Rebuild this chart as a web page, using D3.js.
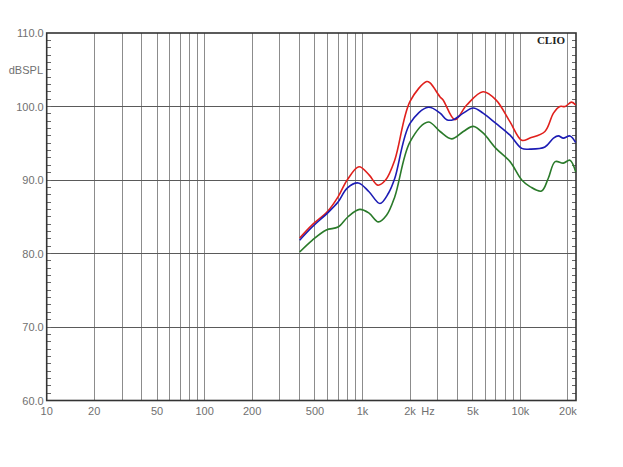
<!DOCTYPE html>
<html><head><meta charset="utf-8">
<script src="https://cdn.jsdelivr.net/npm/d3@7"></script>
<style>body{margin:0;background:#fff}svg{display:block}</style>
</head><body><svg id="c" width="623" height="467"></svg>
<script>
const yTicks = [60, 70, 80, 90, 100, 110];
const xLabelTicks = [10, 20, 50, 100, 200, 500, 1000, 2000, 5000, 10000, 20000];
const xLabelText = ["10", "20", "50", "100", "200", "500", "1k", "2k", "5k", "10k", "20k"];

const redFreq = [400, 480, 600, 700, 800, 950, 1100, 1250, 1400, 1600, 2000, 2550, 2680, 3100, 3240, 3850, 4570, 5800, 7000, 8600, 10200, 11500, 14300, 16200, 17800, 19200, 21100, 22400];
const redDb   = [82.1, 83.9, 85.7, 87.7, 90.0, 91.8, 90.7, 89.3, 90.0, 92.7, 100.7, 103.4, 103.2, 101.3, 100.9, 98.2, 100.2, 102.0, 100.9, 97.9, 95.4, 95.7, 96.6, 99.1, 100.0, 100.0, 100.6, 100.2];

const blueFreq = [400, 480, 600, 700, 800, 940, 1100, 1290, 1460, 1600, 2000, 2610, 3100, 3415, 3760, 4350, 5030, 5800, 7000, 8600, 10200, 11500, 14300, 16200, 17400, 18700, 20600, 22400];
const blueDb   = [81.8, 83.6, 85.5, 87.0, 88.9, 89.6, 88.4, 86.8, 88.2, 90.2, 97.7, 99.9, 99.1, 98.2, 98.2, 99.1, 99.8, 99.1, 97.7, 96.1, 94.3, 94.2, 94.5, 95.7, 96.0, 95.7, 96.0, 95.1];

const greenFreq = [400, 480, 590, 700, 810, 960, 1100, 1260, 1420, 1600, 2000, 2610, 3100, 3670, 4350, 5030, 5800, 7000, 8600, 10200, 11500, 13600, 15000, 16600, 18700, 20600, 22400];
const greenDb   = [80.2, 81.8, 83.2, 83.6, 85.0, 86.0, 85.5, 84.3, 85.2, 87.7, 95.2, 97.9, 96.6, 95.6, 96.6, 97.3, 96.4, 94.3, 92.5, 90.0, 89.1, 88.5, 90.2, 92.5, 92.3, 92.7, 91.1];

const seriesNames = ["red", "blue", "green"];
const seriesColors = ["#e0201c", "#1c1cb4", "#2a7a2a"];
const seriesFreq = [redFreq, blueFreq, greenFreq];
const seriesDb = [redDb, blueDb, greenDb];

const svg = d3.select("#c");
const L = 46.7, R = 576, T = 33, B = 400.5;
const x = d3.scaleLog().domain([10, 22500]).range([L, R]);
const y = d3.scaleLinear().domain([60, 110]).range([B, T]);

// vertical grid lines (1..9 per decade)
const vGrid = [];
for (let dec = 10; dec <= 10000; dec *= 10) for (let m = 1; m <= 9; m++) { const f = dec * m; if (f > 10 && f <= 22500) vGrid.push(f); }
svg.append("g").selectAll("line").data(vGrid).join("line")
  .attr("x1", d => x(d)).attr("x2", d => x(d)).attr("y1", T).attr("y2", B)
  .attr("stroke", "#8c8c8c").attr("stroke-width", 1).attr("shape-rendering", "crispEdges");

// horizontal grid
svg.append("g").selectAll("line").data(yTicks.filter(v => v > 60 && v < 110)).join("line")
  .attr("x1", L).attr("x2", R).attr("y1", d => y(d)).attr("y2", d => y(d))
  .attr("stroke", "#5a5a5a").attr("stroke-width", 1).attr("shape-rendering", "crispEdges");

// minor ticks every 1 dB
const minor = d3.range(61, 110);
svg.append("g").selectAll("line").data(minor).join("line")
  .attr("x1", L).attr("x2", L + 4).attr("y1", d => y(d)).attr("y2", d => y(d))
  .attr("stroke", "#666").attr("shape-rendering", "crispEdges");
svg.append("g").selectAll("line").data(minor).join("line")
  .attr("x1", R - 4).attr("x2", R).attr("y1", d => y(d)).attr("y2", d => y(d))
  .attr("stroke", "#666").attr("shape-rendering", "crispEdges");

// frame
svg.append("rect").attr("x", L).attr("y", T).attr("width", R - L).attr("height", B - T)
  .attr("fill", "none").attr("stroke", "#333").attr("stroke-width", 1.6);

// curves
const line = d3.line().curve(d3.curveCatmullRom.alpha(0.5));
seriesNames.forEach((n, i) => {
  const pts = seriesFreq[i].map((f, j) => [x(Math.min(f, 22500)), y(seriesDb[i][j])]);
  svg.append("path").attr("d", line(pts)).attr("fill", "none")
    .attr("stroke", seriesColors[i]).attr("stroke-width", 1.6).attr("stroke-linejoin", "round");
});

// axis labels
const font = "Arial, 'Liberation Sans', sans-serif";
svg.append("g").selectAll("text").data(yTicks).join("text")
  .attr("x", L - 3).attr("y", d => y(d) + 4).attr("text-anchor", "end")
  .attr("font-family", font).attr("font-size", 11).attr("fill", "#707070").text(d => d.toFixed(1));
svg.append("g").selectAll("text").data(xLabelTicks).join("text")
  .attr("x", d => x(d)).attr("y", 415).attr("text-anchor", "middle")
  .attr("font-family", font).attr("font-size", 11).attr("fill", "#707070").text((d, i) => xLabelText[i]);
svg.append("text").attr("x", 428).attr("y", 415).attr("text-anchor", "middle")
  .attr("font-family", font).attr("font-size", 11).attr("fill", "#707070").text("Hz");
svg.append("text").attr("x", 43).attr("y", 74).attr("text-anchor", "end")
  .attr("font-family", font).attr("font-size", 11).attr("fill", "#707070").text("dBSPL");
svg.append("text").attr("x", 565).attr("y", 44).attr("text-anchor", "end")
  .attr("font-family", "'Liberation Serif', 'Times New Roman', serif").attr("font-weight", "bold")
  .attr("font-size", 11).attr("fill", "#222").text("CLIO");
</script></body></html>
